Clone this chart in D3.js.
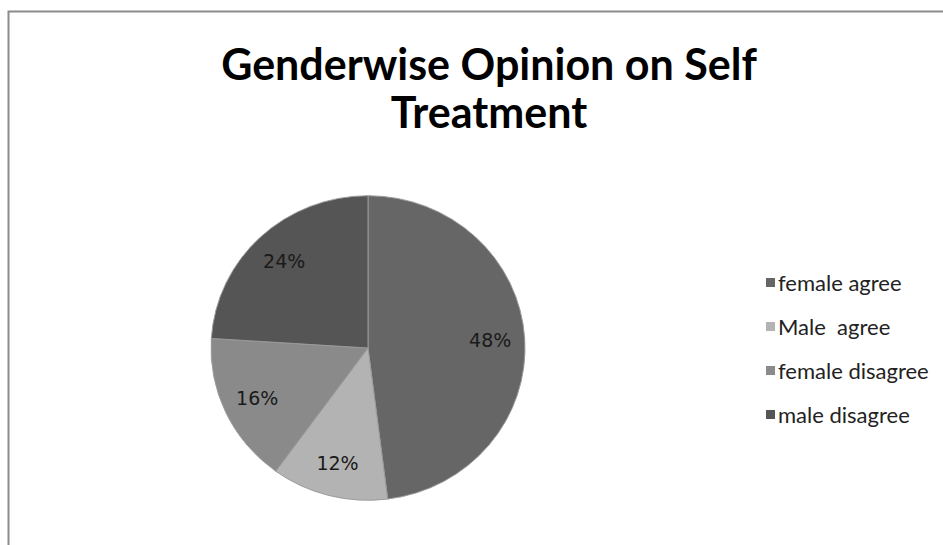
<!DOCTYPE html>
<html>
<head>
<meta charset="utf-8">
<script src="https://cdn.jsdelivr.net/npm/d3@7"></script>
<style>
  body { margin: 0; background: #fff; }
  svg { display: block; }
</style>
</head>
<body>
<div id="chart"></div>
<script>
// Chart data
const categories = ["female agree", "Male  agree", "female disagree", "male disagree"];
const shares = [48, 12, 16, 24];
const sliceColors = ["#666666", "#b3b3b3", "#8a8a8a", "#555555"];
const titleLines = ["Genderwise Opinion on Self", "Treatment"];

const width = 943;
const height = 545;

const svg = d3.select("#chart")
  .append("svg")
  .attr("width", width)
  .attr("height", height);

// Chart frame (cut off at right and bottom)
svg.append("rect")
  .attr("x", 8.5)
  .attr("y", 11.5)
  .attr("width", 960)
  .attr("height", 560)
  .attr("fill", "#fff")
  .attr("stroke", "#8c8c8c")
  .attr("stroke-width", 2);

// Title
svg.append("g")
  .selectAll("text")
  .data(titleLines)
  .join("text")
  .attr("x", 489)
  .attr("y", (d, i) => 80 + i * 48)
  .attr("text-anchor", "middle")
  .attr("font-family", "Lato, sans-serif")
  .attr("font-weight", "bold")
  .attr("font-size", "43px")
  .attr("fill", "#000")
  .text(d => d);

// Pie
const cx = 368, cy = 348, r = 157;
const pie = d3.pie().sort(null).value(d => d)(shares);
const arc = d3.arc().innerRadius(0).outerRadius(r);
const labelArc = d3.arc().innerRadius(r * 0.78).outerRadius(r * 0.78);

const g = svg.append("g")
  .attr("transform", `translate(${cx},${cy}) scale(1,0.97)`);

g.selectAll("path")
  .data(pie)
  .join("path")
  .attr("d", arc)
  .attr("fill", (d, i) => sliceColors[i])
  .attr("stroke", "#9a9a9a")
  .attr("stroke-width", 1);

g.selectAll("text.lbl")
  .data(pie)
  .join("text")
  .attr("class", "lbl")
  .attr("transform", d => `translate(${labelArc.centroid(d)}) scale(1,${1 / 0.97})`)
  .attr("text-anchor", "middle")
  .attr("dy", "0.35em")
  .attr("font-family", "'DejaVu Sans', sans-serif")
  .attr("font-size", "19px")
  .attr("fill", "#1a1a1a")
  .text(d => d.data + "%");

// Legend
const legend = svg.append("g")
  .attr("transform", "translate(766,283)");

const rows = legend.selectAll("g")
  .data(categories)
  .join("g")
  .attr("transform", (d, i) => `translate(0,${i * 44})`);

rows.append("rect")
  .attr("x", 0)
  .attr("y", -5)
  .attr("width", 9)
  .attr("height", 9)
  .attr("fill", (d, i) => sliceColors[i]);

rows.append("text")
  .attr("x", 12)
  .attr("dy", "0.35em")
  .attr("font-family", "Lato, sans-serif")
  .attr("font-size", "22px")
  .attr("fill", "#222")
  .style("white-space", "pre")
  .text(d => d);
</script>
</body>
</html>
